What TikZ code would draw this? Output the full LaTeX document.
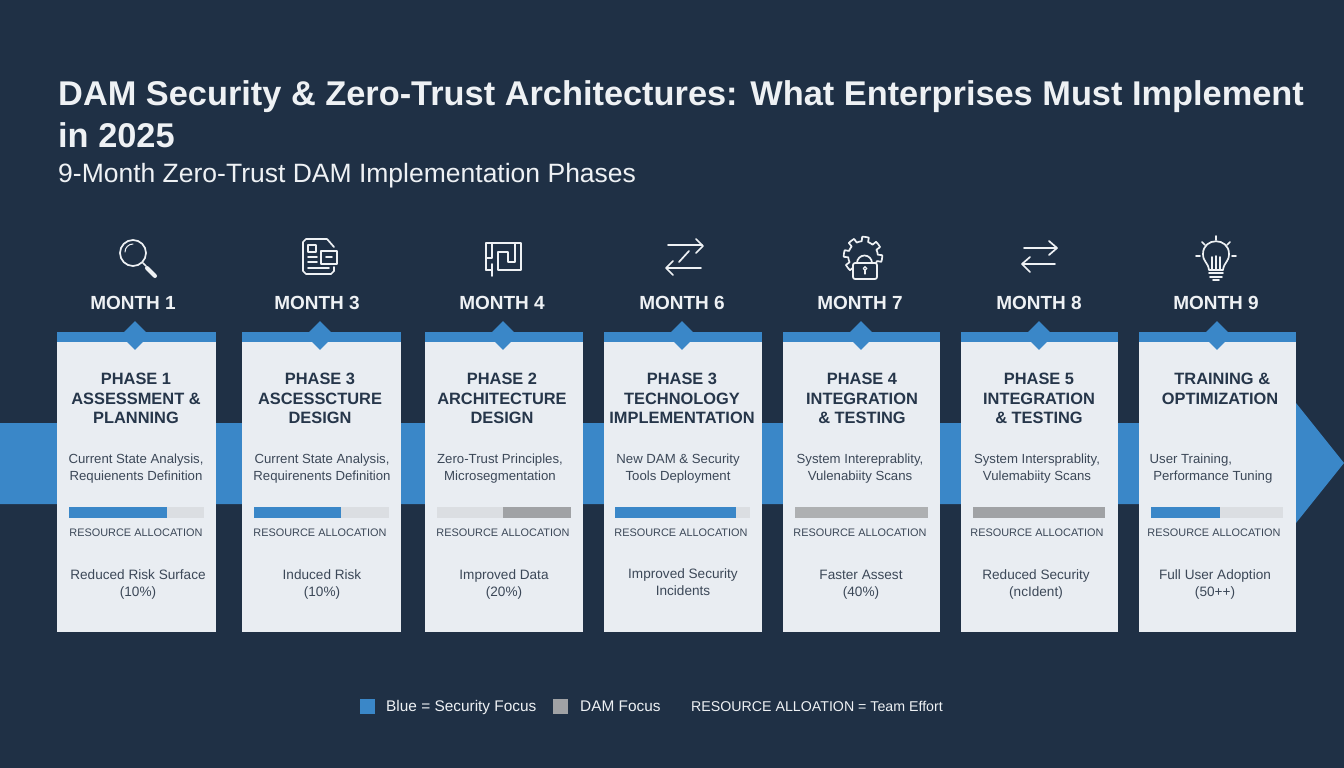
\documentclass[tikz,border=0pt]{standalone}
\usepackage{fontspec}
\setmainfont{Liberation Sans}
\usetikzlibrary{shapes.geometric}
\definecolor{bgnavy}{HTML}{1F3045}
\definecolor{bandblue}{HTML}{3A87C8}
\definecolor{cardwhite}{HTML}{E9EDF2}
\definecolor{inkdark}{HTML}{26364A}
\definecolor{inkbody}{HTML}{3C4858}
\definecolor{trackgray}{HTML}{DBDEE2}
\definecolor{damgray}{HTML}{A0A2A5}
\definecolor{iconwhite}{HTML}{EEF1F4}
\tikzset{
    card/.style={fill=cardwhite,minimum width=#1,minimum height=291,inner sep=0,anchor=north},
    capbar/.style={fill=bandblue,minimum width=#1,minimum height=10,inner sep=0,anchor=south},
    pin/.style={diamond,fill=bandblue,minimum width=29,minimum height=29,inner sep=0},
    monthlabel/.style={text=iconwhite,font=\fontsize{19}{22}\selectfont\bfseries},
    phasetitle/.style={text=inkdark,align=center,font=\fontsize{16.4}{19.6}\selectfont\bfseries},
    phasetext/.style={text=inkbody,align=center,font=\fontsize{13.2}{17}\selectfont},
    goaltext/.style={text=inkbody,align=center,font=\fontsize{13.6}{17}\selectfont},
    reslabel/.style={text=inkbody,font=\fontsize{10.9}{14}\selectfont},
    track/.style={fill=trackgray,minimum height=11,inner sep=0,anchor=west},
    bluefill/.style={fill=bandblue,minimum height=11,inner sep=0,anchor=west},
    grayfill/.style={fill=damgray,minimum height=11,inner sep=0,anchor=west},
    iconline/.style={draw=iconwhite,line width=1.7,line cap=round,line join=round},
    legendtext/.style={text=iconwhite,font=\fontsize{15.4}{17}\selectfont},
}
\begin{document}
\begin{tikzpicture}[x=1pt,y=-1pt]
    \fill[bgnavy] (0,0) rectangle (1344,768);

    % Heading
    \node[anchor=west,inner sep=0,text=iconwhite,font=\fontsize{34.35}{41}\selectfont\bfseries] (headA) at (58,97) {DAM Security \& Zero-Trust Architectures: What Enterprises Must Implement};
    \node[anchor=west,inner sep=0,text=iconwhite,font=\fontsize{34.35}{41}\selectfont\bfseries] (headB) at (58,135) {in 2025};
    \node[anchor=west,inner sep=0,text=iconwhite,font=\fontsize{26.5}{30}\selectfont] (subhead) at (58,176) {9-Month Zero-Trust DAM Implementation Phases};

    % Timeline band
    \fill[bandblue] (0,423) -- (1296,423) -- (1296,403) -- (1344,463) -- (1296,523) -- (1296,504) -- (0,504) -- cycle;

    % Cards
    \node[card=159] (cardA) at (136.5,341) {};
    \node[card=159] (cardB) at (321.5,341) {};
    \node[card=158] (cardC) at (504,341) {};
    \node[card=158] (cardD) at (683,341) {};
    \node[card=157] (cardE) at (861.5,341) {};
    \node[card=157] (cardF) at (1039.5,341) {};
    \node[card=157] (cardG) at (1217.5,341) {};

    \node[capbar=159] (capA) at ([yshift=-1pt]cardA.north) {};
    \node[capbar=159] (capB) at ([yshift=-1pt]cardB.north) {};
    \node[capbar=158] (capC) at ([yshift=-1pt]cardC.north) {};
    \node[capbar=158] (capD) at ([yshift=-1pt]cardD.north) {};
    \node[capbar=157] (capE) at ([yshift=-1pt]cardE.north) {};
    \node[capbar=157] (capF) at ([yshift=-1pt]cardF.north) {};
    \node[capbar=157] (capG) at ([yshift=-1pt]cardG.north) {};

    \node[pin] (pinA) at (135,335.5) {};
    \node[pin] (pinB) at (320,335.5) {};
    \node[pin] (pinC) at (503,335.5) {};
    \node[pin] (pinD) at (682,335.5) {};
    \node[pin] (pinE) at (861,335.5) {};
    \node[pin] (pinF) at (1039,335.5) {};
    \node[pin] (pinG) at (1217,335.5) {};

    % Months
    \node[monthlabel] (monthA) at (133,302.5) {MONTH 1};
    \node[monthlabel] (monthB) at (317,302.5) {MONTH 3};
    \node[monthlabel] (monthC) at (502,302.5) {MONTH 4};
    \node[monthlabel] (monthD) at (682,302.5) {MONTH 6};
    \node[monthlabel] (monthE) at (860,302.5) {MONTH 7};
    \node[monthlabel] (monthF) at (1039,302.5) {MONTH 8};
    \node[monthlabel] (monthG) at (1216,302.5) {MONTH 9};

    % Phase titles
    \node[phasetitle,anchor=north] (titleA) at (136,369.5) {PHASE 1\\ASSESSMENT \&\\PLANNING};
    \node[phasetitle,anchor=north] (titleB) at (320,369.5) {PHASE 3\\ASCESSCTURE\\DESIGN};
    \node[phasetitle,anchor=north] (titleC) at (502,369.5) {PHASE 2\\ARCHITECTURE\\DESIGN};
    \node[phasetitle,anchor=north] (titleD) at (682,369.5) {PHASE 3\\TECHNOLOGY\\IMPLEMENTATION};
    \node[phasetitle,anchor=north] (titleE) at (862,369.5) {PHASE 4\\INTEGRATION\\\& TESTING};
    \node[phasetitle,anchor=north] (titleF) at (1039,369.5) {PHASE 5\\INTEGRATION\\\& TESTING};
    \node[phasetitle,anchor=north] (titleG) at (1220,369.5) {\ TRAINING \&\\OPTIMIZATION};

    % Activities
    \node[phasetext] (workA) at (136,468.5) {Current State Analysis,\\Requienents Definition};
    \node[phasetext] (workB) at (322,468.5) {Current State Analysis,\\Requirenents Definition};
    \node[phasetext] (workC) at (500,468.5) {Zero-Trust Principles,\\Microsegmentation};
    \node[phasetext] (workD) at (678,468.5) {New DAM \& Security\\Tools Deployment};
    \node[phasetext] (workE) at (860,468.5) {System Intereprablity,\\Vulenabiity Scans};
    \node[phasetext] (workF) at (1037,468.5) {System Intersprablity,\\Vulemabiity Scans};
    \node[phasetext,align=left] (workG) at (1211,468.5) {User Training,\\\ Performance Tuning};

    % Resource bars
    \node[track,minimum width=135] (trackA) at (69,512) {};
    \node[bluefill,minimum width=98] (fillA) at (69,512) {};
    \node[track,minimum width=135] (trackB) at (254,512) {};
    \node[bluefill,minimum width=87] (fillB) at (254,512) {};
    \node[track,minimum width=134] (trackC) at (437,512) {};
    \node[grayfill,minimum width=68] (fillC) at (503,512) {};
    \node[track,minimum width=135] (trackD) at (615,512) {};
    \node[bluefill,minimum width=121] (fillD) at (615,512) {};
    \node[grayfill,minimum width=133,fill=damgray!85] (fillE) at (795,512) {};
    \node[grayfill,minimum width=132] (fillF) at (973,512) {};
    \node[track,minimum width=132] (trackG) at (1151,512) {};
    \node[bluefill,minimum width=69] (fillG) at (1151,512) {};

    \node[reslabel] (resA) at (136,533) {RESOURCE ALLOCATION};
    \node[reslabel] (resB) at (320,533) {RESOURCE ALLOCATION};
    \node[reslabel] (resC) at (503,533) {RESOURCE ALLOCATION};
    \node[reslabel] (resD) at (681,533) {RESOURCE ALLOCATION};
    \node[reslabel] (resE) at (860,533) {RESOURCE ALLOCATION};
    \node[reslabel] (resF) at (1037,533) {RESOURCE ALLOCATION};
    \node[reslabel] (resG) at (1214,533) {RESOURCE ALLOCATION};

    % Outcomes
    \node[goaltext] (goalA) at (138,584) {Reduced Risk Surface\\(10\%)};
    \node[goaltext] (goalB) at (322,584) {Induced Risk\\(10\%)};
    \node[goaltext] (goalC) at (504,584) {Improved Data\\(20\%)};
    \node[goaltext] (goalD) at (683,582.5) {Improved Security\\Incidents};
    \node[goaltext] (goalE) at (861,584.5) {Faster Assest\\(40\%)};
    \node[goaltext] (goalF) at (1036,584) {Reduced Security\\(ncIdent)};
    \node[goaltext] (goalG) at (1215,584) {Full User Adoption\\(50++)};

    % Icons
    \draw[iconline] (133,253) circle (13);
    \draw[iconline,line width=1] (125,252) arc[start angle=180,end angle=270,radius=8];
    \draw[iconline] (143,263) -- (146,266);
    \draw[iconline,line width=4] (147,268) -- (155,276);

    \draw[iconline] (334,247) -- (327,239) -- (306,239) -- (303,242) -- (303,271) -- (306,274) -- (331,274) -- (334,271) -- (334,267);
    \draw[iconline] (308,245) rectangle (316,252);
    \draw[iconline] (308,257) -- (317,257) (308,262) -- (317,262) (308,268) -- (329,268);
    \draw[iconline] (321,251) rectangle (337,264);
    \draw[iconline] (326,257) -- (332,257);

    \draw[iconline] (486,270) -- (486,243) -- (521,243) -- (521,270) -- (498,270) -- (498,252) -- (508,252) -- (508,262) -- (515,262) -- (515,243);
    \draw[iconline] (492,243) -- (492,258) -- (486,258);
    \draw[iconline] (486,270) -- (492,270) (492,264) -- (492,276);

    \draw[iconline] (668,245) -- (702,245);
    \draw[iconline] (696,239) -- (703,246) -- (696,253);
    \draw[iconline] (701,268) -- (667,268);
    \draw[iconline] (673,261) -- (666,268) -- (673,275);
    \draw[iconline] (679,262) -- (689,251);

    \draw[iconline,shift={(863,256)}] plot[domain=0:360,samples=145] (\x:{17+2.2*sign(sin(8*\x+22))});
    \draw[iconline,fill=bgnavy,rounded corners=2] (853,263) rectangle (877,279);
    \draw[iconline] (857,263) arc[start angle=180,end angle=360,radius=7.5];
    \draw[iconline,line width=1.3] (865,268.5) circle (1.8);
    \draw[iconline,line width=1.3] (865,270.5) -- (865,274);

    \draw[iconline] (1024,248) -- (1056,248);
    \draw[iconline] (1049,241) -- (1057,248) -- (1049,255);
    \draw[iconline] (1055,264) -- (1023,264);
    \draw[iconline] (1030,257) -- (1022,264) -- (1030,272);

    \draw[iconline] (1209,270) .. controls (1208,262) and (1203,262) .. (1203,254) .. controls (1203,237) and (1229,237) .. (1229,254) .. controls (1229,262) and (1224,262) .. (1223,270) -- cycle;
    \draw[iconline] (1212,270) -- (1212,257) (1216,270) -- (1216,256) (1220,270) -- (1220,257);
    \draw[iconline] (1209,273) -- (1223,273) (1210,277) -- (1222,277) (1213,280) -- (1219,280);
    \draw[iconline] (1216,236) -- (1216,240) (1202,242) -- (1205,245) (1230,242) -- (1227,245) (1196,256) -- (1200,256) (1232,256) -- (1236,256);

    % Legend
    \node[fill=bandblue,minimum size=15,inner sep=0] (keyBlue) at (367.5,706.5) {};
    \node[legendtext,anchor=base west,inner sep=0] (textBlue) at (386,711.5) {Blue = Security Focus};
    \node[fill=damgray,minimum size=15,inner sep=0] (keyGray) at (560.5,706.5) {};
    \node[legendtext,anchor=base west,inner sep=0] (textGray) at (580,711.5) {DAM Focus};
    \node[legendtext,anchor=base west,inner sep=0,font=\fontsize{14.2}{17}\selectfont] (textRes) at (691,711.5) {RESOURCE ALLOATION = Team Effort};
\end{tikzpicture}
\end{document}
